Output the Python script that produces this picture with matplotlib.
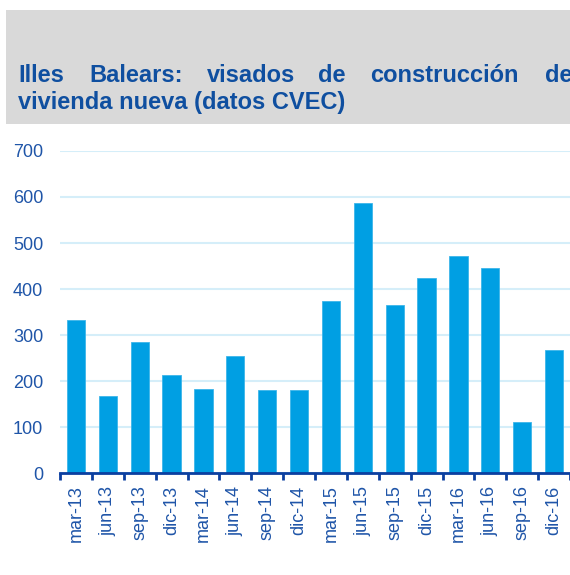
import matplotlib.pyplot as plt
import numpy as np
from matplotlib.patches import Rectangle

# datos
periods = ['mar-13', 'jun-13', 'sep-13', 'dic-13', 'mar-14', 'jun-14', 'sep-14', 'dic-14',
           'mar-15', 'jun-15', 'sep-15', 'dic-15', 'mar-16', 'jun-16', 'sep-16', 'dic-16']
visados = [332, 167, 285, 213, 183, 254, 180, 180,
           374, 587, 365, 424, 472, 446, 111, 267]
yticks = [0, 100, 200, 300, 400, 500, 600, 700]

title_line1 = ['Illes', 'Balears:', 'visados', 'de', 'construcción', 'de']
title_line2 = 'vivienda nueva (datos CVEC)'

bar_color = '#009FE3'
text_blue = '#1F55A8'
title_blue = '#0F4FA0'
axis_blue = '#0B3FA0'
grid_color = '#D5EEF9'

plt.rcParams['font.family'] = ['Liberation Sans', 'DejaVu Sans']

fig = plt.figure(figsize=(5.70, 5.75), dpi=100)

# gray header band
fig.patches.append(Rectangle((6 / 570, 1 - 124 / 575), 1, (124 - 10) / 575,
                             transform=fig.transFigure, facecolor='#D9D9D9',
                             edgecolor='none', zorder=0))

# justified title, word by word (text is clipped at the right edge like the original)
word_x = [18, 89, 207, 318, 370, 545]
for w, xp in zip(title_line1, word_x):
    fig.text(xp / 570, 1 - 82 / 575, w, fontsize=17, fontweight='bold',
             color=title_blue, ha='left', va='baseline')
fig.text(18 / 570, 1 - 109 / 575, title_line2, fontsize=17, fontweight='bold',
         color=title_blue, ha='left', va='baseline')

ax = fig.add_axes([60 / 570, 102 / 575, 510 / 570, 322 / 575])
x = np.arange(len(periods))
ax.bar(x, visados, width=0.57, color=bar_color, edgecolor='#3DB5EA', linewidth=0.6, zorder=3)

ax.set_xlim(-0.5, len(periods) - 0.5)
ax.set_ylim(0, 700)
ax.set_yticks(yticks)
ax.set_xticks(x)
ax.set_xticklabels(periods, rotation=90)
ax.set_xticks(np.arange(len(periods) + 1) - 0.5, minor=True)

ax.grid(axis='y', color=grid_color, linewidth=1.5, zorder=0)
for s in ['top', 'right', 'left']:
    ax.spines[s].set_visible(False)
ax.spines['bottom'].set_color(axis_blue)
ax.spines['bottom'].set_linewidth(2)
ax.spines['bottom'].set_zorder(4)

ax.tick_params(axis='y', length=0, pad=12, labelsize=13, labelcolor=text_blue)
ax.tick_params(axis='x', which='major', length=0, pad=9, labelsize=13, labelcolor=text_blue)
ax.tick_params(axis='x', which='minor', length=5, width=2, color=axis_blue, direction='out')

fig.savefig('out.png', dpi=100)
